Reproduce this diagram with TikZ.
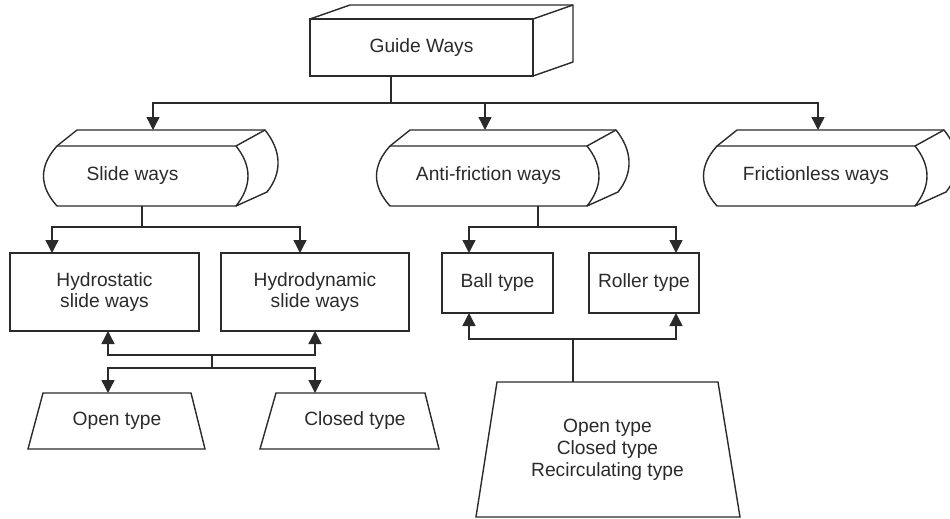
\documentclass[tikz,border=0pt]{standalone}
\usepackage{fontspec}
\setmainfont{Liberation Sans}
\usetikzlibrary{arrows.meta}
\definecolor{ink}{HTML}{2A2A2A}
\newcommand\wayshape[1]{%
  \draw (#1.north west) -- (#1.north east)
     .. controls ([shift={(16,20)}]#1.north east) and ([shift={(16,-20)}]#1.south east) .. (#1.south east)
     -- (#1.south west)
     .. controls ([shift={(-18,-20)}]#1.south west) and ([shift={(-18,20)}]#1.north west) .. (#1.north west) -- cycle;
  \draw (#1.north west) -- ++(20,-16) -- ([shift={(29,-16)}]#1.north east)
     .. controls ([shift={(45,4)}]#1.north east) and ([shift={(47,-34)}]#1.south east) .. ([shift={(31,-14)}]#1.south east)
     -- (#1.south east);
  \draw (#1.north east) -- ++(29,-16);
}
\begin{document}
\begin{tikzpicture}[x=1pt,y=-1pt, line width=1.4pt, color=ink, line join=miter,
  every node/.style={font=\fontsize{19.2}{21.8}\selectfont, inner sep=0pt, outer sep=0pt},
  face/.style={rectangle},
  rect/.style={rectangle, draw, align=center},
  arr/.style={-{Triangle[length=13pt,width=13pt]}},
]
\useasboundingbox (0,0) rectangle (950,519);

% nodes
\node[face, minimum width=223pt, minimum height=57pt] (gw) at (421.5,47.5) {Guide Ways};
\node[face, minimum width=179pt, minimum height=60pt] (sw) at (146.5,176) {Slide ways\hspace*{28pt}};
\node[face, minimum width=197pt, minimum height=60pt] (af) at (488.5,176) {Anti-friction ways};
\node[face, minimum width=198pt, minimum height=60pt] (fw) at (816,176) {Frictionless ways};

\node[rect, minimum width=189pt, minimum height=78pt] (hs) at (104.5,292) {Hydrostatic\\slide ways};
\node[rect, minimum width=188pt, minimum height=78pt] (hd) at (315,292) {Hydrodynamic\\slide ways};
\node[rect, minimum width=111pt, minimum height=60pt] (bt) at (497.5,283) {Ball type};
\node[rect, minimum width=110pt, minimum height=60pt] (rt) at (644,283) {Roller type};

\node[face, minimum width=148pt, minimum height=56pt] (ot) at (117,421) {Open type};
\node[face, minimum width=149pt, minimum height=56pt] (ct) at (350.5,421) {\hspace*{9pt}Closed type};
\node[face, minimum width=221pt, minimum height=135pt, align=center] (bg) at (607.5,449.5) {Open type\\Closed type\\Recirculating type};

% 3D box for Guide Ways
\draw (gw.north west) rectangle (gw.south east);
\draw (gw.north west) -- ++(40,-14) -- ([shift={(40,-14)}]gw.north east) -- ([shift={(40,-14)}]gw.south east) -- (gw.south east);
\draw (gw.north east) -- ++(40,-14);

% curved 3D shapes
\wayshape{sw}
\wayshape{af}
\wayshape{fw}

% trapezoids
\draw (ot.north west) -- (ot.north east) -- ([shift={(14,0)}]ot.south east) -- ([shift={(-15,0)}]ot.south west) -- cycle;
\draw (ct.north west) -- (ct.north east) -- ([shift={(14,0)}]ct.south east) -- ([shift={(-16,0)}]ct.south west) -- cycle;
\draw (bg.north west) -- (bg.north east) -- ([shift={(22,0)}]bg.south east) -- ([shift={(-21,0)}]bg.south west) -- cycle;

% connectors
\coordinate (j1) at (391,103);
\draw ([shift={(-30.5,0)}]gw.south) -- (j1);
\draw[arr] (j1) -| ([shift={(6.5,-16)}]sw.north);
\draw[arr] (j1) -| ([shift={(-3.5,-16)}]af.north);
\draw[arr] (j1) -| ([shift={(2,-16)}]fw.north);

\coordinate (j2) at (142,227);
\draw ([shift={(-4.5,0)}]sw.south) -- (j2);
\draw[arr] (j2) -| ([shift={(-52.5,0)}]hs.north);
\draw[arr] (j2) -| ([shift={(-15,0)}]hd.north);

\coordinate (j3) at (212,355);
\coordinate (j4) at (212,368);
\draw (j3) -- (j4);
\draw[arr] (j3) -| ([shift={(3.5,0)}]hs.south);
\draw[arr] (j3) -| (hd.south);
\draw[arr] (j4) -| ([shift={(-9,0)}]ot.north);
\draw[arr] (j4) -| ([shift={(-35.5,0)}]ct.north);

\coordinate (j5) at (538,227);
\draw ([shift={(49.5,0)}]af.south) -- (j5);
\draw[arr] (j5) -| ([shift={(-28.5,0)}]bt.north);
\draw[arr] (j5) -| ([shift={(32,0)}]rt.north);

\coordinate (j6) at (573,339);
\draw ([shift={(-34.5,0)}]bg.north) -- (j6);
\draw[arr] (j6) -| ([shift={(-28.5,0)}]bt.south);
\draw[arr] (j6) -| ([shift={(32,0)}]rt.south);
\end{tikzpicture}
\end{document}
